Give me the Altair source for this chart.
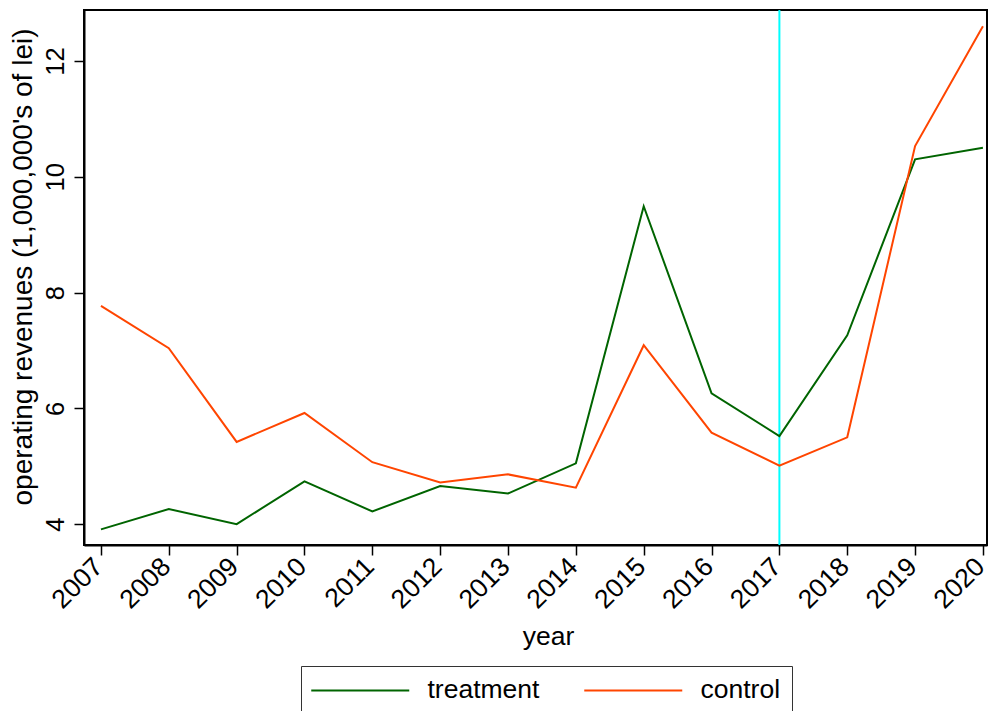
import altair as alt
import pandas as pd

years = list(range(2007, 2021))
treatment = [3.91, 4.26, 4.00, 4.74, 4.22, 4.66, 4.53, 5.05, 9.49, 6.26, 5.52, 7.26, 10.30, 10.50]
control = [7.77, 7.04, 5.42, 5.92, 5.07, 4.72, 4.86, 4.63, 7.09, 5.58, 5.01, 5.50, 10.53, 12.60]
groups = ["treatment", "control"]
colors = ["#006400", "#ff4500"]
cutoff_year = [2017]
y_ticks = [4, 6, 8, 10, 12]

FONT = "Liberation Sans"
X_DOMAIN = [2006.75, 2020.06]

df = pd.DataFrame({
    "year": years + years,
    "value": treatment + control,
    "group": ["treatment"] * len(years) + ["control"] * len(years),
})
cut = pd.DataFrame({"year": cutoff_year})

x_enc = alt.X(
    "year:Q",
    scale=alt.Scale(domain=X_DOMAIN, nice=False, zero=False),
    axis=alt.Axis(
        values=years, format="d", labelAngle=315, labelAlign="right",
        labelBaseline="top", labelPadding=-2, labelOffset=-12, labelFlush=False,
        labelFontSize=26.5, labelOverlap=False,
        title="year", titleFontSize=26.5, titleX=464, titleY=99,
        titleAlign="center", titleBaseline="alphabetic",
    ),
)
y_enc = alt.Y(
    "value:Q",
    scale=alt.Scale(domain=[3.64, 12.88], nice=False, zero=False),
    axis=alt.Axis(
        values=y_ticks, labelAngle=270, labelAlign="center",
        labelBaseline="alphabetic", labelPadding=11, labelFontSize=25.5,
        labelFlush=False, labelOverlap=False,
        title="operating revenues (1,000,000's of lei)", titleFontSize=28,
        titleAngle=270, titleX=-52.5, titleY=256.5, titleBaseline="alphabetic",
        titleAlign="center",
    ),
)

rule = alt.Chart(cut).mark_rule(color="#00ffff", strokeWidth=2).encode(
    x=alt.X("year:Q", scale=alt.Scale(domain=X_DOMAIN, nice=False, zero=False))
)

lines = alt.Chart(df).mark_line(strokeWidth=2).encode(
    x=x_enc,
    y=y_enc,
    color=alt.Color(
        "group:N",
        scale=alt.Scale(domain=groups, range=colors),
        sort=groups,
        legend=alt.Legend(
            title=None, orient="none", legendX=217, legendY=656,
            direction="horizontal", columns=2, symbolType="M-1.4,0H8.4",
            symbolSize=400, symbolStrokeWidth=2, labelFontSize=26.5,
            labelOffset=89, columnPadding=40, padding=11,
            strokeColor="#333333", fillColor="white",
        ),
    ),
)

chart = alt.layer(rule, lines).properties(
    width=903,
    height=535,
    autosize=alt.AutoSizeParams(type="none"),
    padding={"left": 76, "top": 2, "right": 4, "bottom": 166},
    background="white",
).configure_view(
    stroke="black", strokeWidth=2
).configure_axis(
    grid=False, domainColor="black", domainWidth=2, tickColor="black",
    tickWidth=1.5, tickSize=10, labelColor="black", titleColor="black",
    labelFont=FONT, titleFont=FONT, titleFontWeight="normal",
).configure_legend(
    labelFont=FONT, labelColor="black",
)

chart.save("out.html", embed_options={"renderer": "svg", "actions": False})
